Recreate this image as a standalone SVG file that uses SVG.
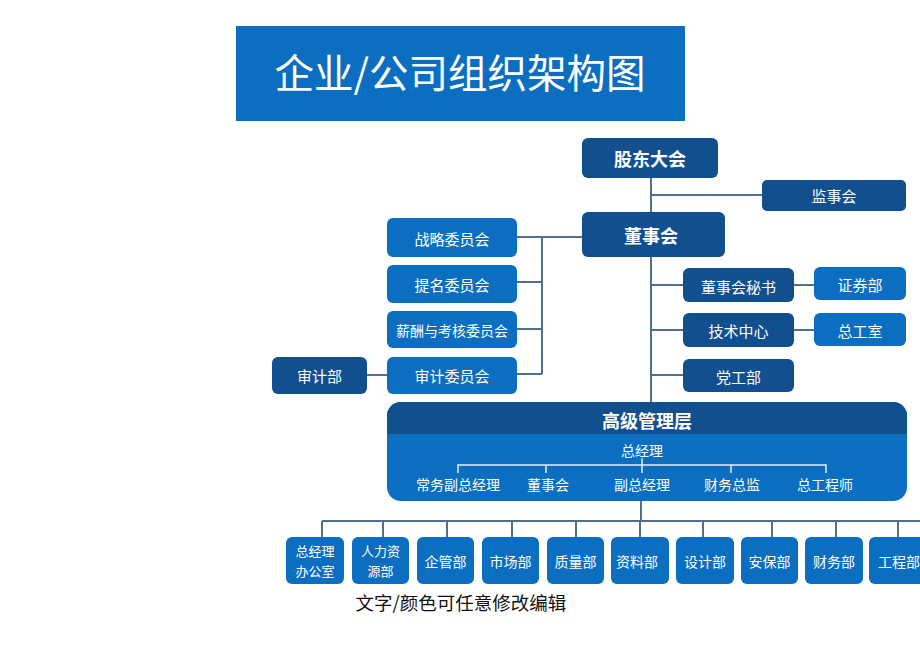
<svg xmlns="http://www.w3.org/2000/svg" width="920" height="651" viewBox="0 0 920 651">
<style>
text{font-family:"Noto Sans CJK SC","Noto Sans",sans-serif;text-anchor:middle;dominant-baseline:central;fill:#fff}
.dk{fill:#124f8e}
.lt{fill:#0b6ec0}
.b{font-weight:bold;font-size:18px}
.m{font-size:15px}
.s{font-size:14px}
.t{font-size:13px}
.ln{stroke:#4f6f8f;stroke-width:2;fill:none}
.wl{stroke:#e6eef6;stroke-width:1.5;fill:none}
</style>
<rect width="920" height="651" fill="#fff"/>
<g id="title">
<rect x="236" y="26" width="449" height="95" fill="#0b6ec0"/>
<text x="460" y="70" style="font-size:39.5px">企业/公司组织架构图</text>
</g>
<g id="connectors">
<path class="ln" d="M651 178V212M651 195H762M651 257V402M650 285H683M650 330H683M650 375H683M794 285H814M794 330H814"/>
<path class="ln" d="M517 237H582M542 237V374M517 282H542M517 329H542M517 374H542M367 375H387"/>
<path class="ln" d="M641 501V521M322 521H920M322 521V537M383 521V537M447 521V537M512 521V537M576 521V537M640 521V537M703 521V537M772 521V537M836 521V537M898 521V537"/>
</g>
<g id="gudong"><rect class="dk" x="582" y="138" width="136" height="40" rx="6"/><text class="b" x="650" y="158">股东大会</text></g>
<g id="jianshi"><rect class="dk" x="762" y="180" width="144" height="31" rx="5"/><text class="m" x="834" y="195.5">监事会</text></g>
<g id="dongshi"><rect class="dk" x="582" y="212" width="143" height="45" rx="6"/><text class="b" x="651" y="235">董事会</text></g>
<g id="zhanlue"><rect class="lt" x="387" y="218" width="130" height="39" rx="6"/><text class="m" x="452" y="238">战略委员会</text></g>
<g id="timing"><rect class="lt" x="387" y="265" width="130" height="38" rx="6"/><text class="m" x="452" y="284">提名委员会</text></g>
<g id="xinchou"><rect class="lt" x="387" y="311" width="130" height="37" rx="6"/><text class="s" x="452" y="329.5">薪酬与考核委员会</text></g>
<g id="shenjiwei"><rect class="lt" x="387" y="357" width="130" height="37" rx="6"/><text class="m" x="452" y="375.5">审计委员会</text></g>
<g id="shenjibu"><rect class="dk" x="272" y="357" width="95" height="37" rx="6"/><text class="m" x="319.5" y="375.5">审计部</text></g>
<g id="mishu"><rect class="dk" x="683" y="268" width="111" height="34" rx="6"/><text class="m" x="738.5" y="286">董事会秘书</text></g>
<g id="zhengquan"><rect class="lt" x="814" y="267" width="92" height="33" rx="6"/><text class="m" x="860" y="284">证券部</text></g>
<g id="jishu"><rect class="dk" x="683" y="313" width="111" height="34" rx="6"/><text class="m" x="738.5" y="330">技术中心</text></g>
<g id="zonggong"><rect class="lt" x="814" y="313" width="92" height="33" rx="6"/><text class="m" x="860" y="330">总工室</text></g>
<g id="danggong"><rect class="dk" x="683" y="359" width="111" height="33" rx="6"/><text class="m" x="738.5" y="376">党工部</text></g>
<g id="gaoji">
<rect class="lt" x="387" y="402" width="520" height="99" rx="14"/>
<path class="dk" d="M401 402H893A14 14 0 0 1 907 416V434H387V416A14 14 0 0 1 401 402Z"/>
<text class="b" x="647" y="420">高级管理层</text>
<text class="s" x="642" y="450">总经理</text>
<path class="wl" d="M642 458V473M458 473V465H826V473M546 465V473M731 465V473"/>
<text class="s" x="458" y="484">常务副总经理</text>
<text class="s" x="548" y="484">董事会</text>
<text class="s" x="642" y="484">副总经理</text>
<text class="s" x="732" y="484">财务总监</text>
<text class="s" x="825" y="484">总工程师</text>
</g>
<g id="d1"><rect class="lt" x="286" y="537" width="58" height="47" rx="6"/><text class="t" x="315" y="550.5">总经理</text><text class="t" x="315" y="570">办公室</text></g>
<g id="d2"><rect class="lt" x="352" y="537" width="57" height="47" rx="6"/><text class="t" x="380.5" y="550.5">人力资</text><text class="t" x="380.5" y="570">源部</text></g>
<g id="d3"><rect class="lt" x="417" y="537" width="57" height="47" rx="6"/><text class="s" x="445.5" y="561">企管部</text></g>
<g id="d4"><rect class="lt" x="482" y="537" width="57" height="47" rx="6"/><text class="s" x="510.5" y="561">市场部</text></g>
<g id="d5"><rect class="lt" x="547" y="537" width="57" height="47" rx="6"/><text class="s" x="575.5" y="561">质量部</text></g>
<g id="d6"><rect class="lt" x="611" y="537" width="58" height="47" rx="6"/><text class="s" x="637" y="561">资料部</text></g>
<g id="d7"><rect class="lt" x="676" y="537" width="58" height="47" rx="6"/><text class="s" x="705" y="561">设计部</text></g>
<g id="d8"><rect class="lt" x="741" y="537" width="57" height="47" rx="6"/><text class="s" x="769.5" y="561">安保部</text></g>
<g id="d9"><rect class="lt" x="805" y="537" width="58" height="47" rx="6"/><text class="s" x="834" y="561">财务部</text></g>
<g id="d10"><rect class="lt" x="869" y="537" width="60" height="47" rx="6"/><text class="s" x="899" y="561">工程部</text></g>
<text x="461" y="602" style="font-size:18.5px;fill:#111">文字/颜色可任意修改编辑</text>
</svg>
